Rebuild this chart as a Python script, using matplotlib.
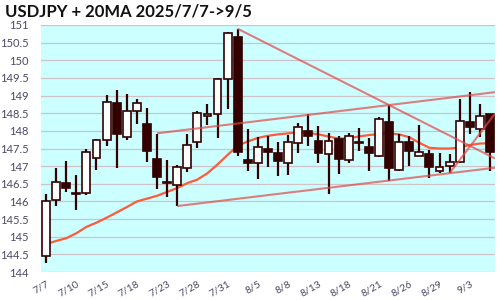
import matplotlib
matplotlib.use("Agg")
import matplotlib.pyplot as plt
import numpy as np

# trading days 2025/7/7 -> 9/5
dates = ["7/7", "7/8", "7/9", "7/10", "7/11", "7/14", "7/15", "7/16", "7/17", "7/18",
         "7/21", "7/22", "7/23", "7/24", "7/25", "7/28", "7/29", "7/30", "7/31",
         "8/1", "8/4", "8/5", "8/6", "8/7", "8/8", "8/11", "8/12", "8/13", "8/14", "8/15",
         "8/18", "8/19", "8/20", "8/21", "8/22", "8/25", "8/26", "8/27", "8/28", "8/29",
         "9/1", "9/2", "9/3", "9/4", "9/5"]

opens = [144.47, 146.05, 146.53, 146.25, 146.24, 147.24, 147.74, 148.79, 147.83, 148.57,
         148.20, 147.20, 146.55, 146.46, 146.96, 147.68, 148.42, 148.47, 149.46,
         150.65, 147.18, 147.08, 147.48, 147.36, 147.08, 147.65, 148.00, 147.71, 147.34, 147.76,
         147.18, 147.69, 147.53, 147.30, 148.24, 146.88, 147.68, 147.28, 147.34, 146.86,
         147.00, 147.13, 148.24, 148.05, 148.48]
highs = [146.20, 146.95, 147.16, 146.76, 147.49, 147.78, 149.02, 149.16, 149.04, 148.90,
         148.66, 147.91, 147.18, 147.02, 147.90, 148.57, 148.76, 149.50, 150.81,
         150.89, 148.05, 147.82, 147.86, 147.68, 147.88, 148.23, 148.48, 148.14, 147.93, 147.84,
         147.93, 148.07, 147.81, 148.38, 148.73, 147.90, 147.86, 148.17, 147.46, 147.37,
         147.34, 148.90, 149.09, 148.76, 148.48]
lows = [144.26, 145.87, 146.26, 145.77, 146.18, 146.89, 147.57, 146.94, 147.75, 148.20,
        147.12, 146.35, 146.12, 145.87, 146.84, 147.52, 148.17, 147.81, 148.61,
        147.30, 146.87, 146.63, 146.99, 146.72, 146.75, 147.38, 147.58, 147.10, 146.22, 146.77,
        147.10, 147.43, 146.87, 147.27, 146.59, 146.87, 147.01, 147.28, 146.67, 146.80,
        146.80, 147.08, 147.90, 147.82, 146.86]
closes = [146.00, 146.56, 146.38, 146.22, 147.41, 147.75, 148.82, 147.92, 148.57, 148.78,
          147.42, 146.68, 146.52, 146.99, 147.60, 148.50, 148.47, 149.47, 150.77,
          147.39, 147.08, 147.53, 147.39, 147.16, 147.69, 148.10, 147.86, 147.38, 147.71, 147.20,
          147.84, 147.65, 147.37, 148.33, 146.96, 147.68, 147.44, 147.39, 146.99, 146.99,
          147.13, 148.29, 148.12, 148.41, 147.41]

ma20 = [144.80, 144.88, 144.96, 145.10, 145.28, 145.40, 145.54, 145.69, 145.84, 146.00,
        146.08, 146.16, 146.27, 146.38, 146.52, 146.62, 146.80, 147.05, 147.32,
        147.58, 147.70, 147.80, 147.86, 147.90, 147.93, 147.96, 147.94, 147.90, 147.84, 147.78,
        147.79, 147.84, 147.88, 147.91, 147.93, 147.90, 147.82, 147.66, 147.52, 147.50,
        147.50, 147.53, 147.60, 147.64, 147.65]

# trend lines: two anchor points (index, price), extended to the right edge
trend_x0 = [11, 13, 19, 40]
trend_y0 = [147.93, 145.87, 150.89, 146.80]
trend_x1 = [34, 40, 34, 44]
trend_y1 = [148.73, 146.80, 148.73, 148.30]

DARK = "#330000"
TXT = "#4a4a66"
FONT = "Lato"

fig = plt.figure(figsize=(5, 3), dpi=100)
ax = fig.add_axes([0.082, 0.093, 0.908, 0.824])
ax.set_facecolor("#ccffff")

x = np.arange(len(dates))
o = np.array(opens); c = np.array(closes)
up = c >= o

ax.plot(x, ma20, color="#ff5a3c", lw=1.6, zorder=2)

ax.vlines(x, lows, highs, color=DARK, lw=1.6, zorder=3)
bottom = np.minimum(o, c)
height = np.abs(c - o)
ax.bar(x, height, bottom=bottom, width=0.78,
       color=np.where(up, "white", DARK), edgecolor=DARK, linewidth=1.2, zorder=4)

xr = len(dates) - 0.5
for xa, ya, xb, yb in zip(trend_x0, trend_y0, trend_x1, trend_y1):
    slope = (yb - ya) / (xb - xa)
    ax.plot([xa, xr], [ya, ya + slope * (xr - xa)], color="#e04848", alpha=0.7,
            lw=1.5, zorder=5, solid_capstyle="butt")

ax.set_xlim(-0.5, xr)
ax.set_ylim(144, 151)
yt = np.arange(144, 151.01, 0.5)
ax.set_yticks(yt)
ax.set_yticklabels([f"{v:g}" for v in yt], fontsize=8, color=TXT, family=FONT)
ax.yaxis.grid(True, color="#d0c3c8", lw=0.9)
ax.set_axisbelow(True)
ax.set_xticks(x[::3])
ax.set_xticklabels(dates[::3], rotation=30, ha="right", va="top", rotation_mode="anchor",
                   fontsize=7.5, color=TXT, family=FONT)
ax.tick_params(length=0)
ax.tick_params(axis="x", pad=5)
ax.tick_params(axis="y", pad=9)
for s in ax.spines.values():
    s.set_visible(False)

fig.text(0.01, 0.963, "USDJPY + 20MA 2025/7/7->9/5", ha="left", va="center",
         fontsize=12, fontweight="bold", family=FONT, color="#111111")

plt.savefig("out.png", dpi=100)
plt.close()
